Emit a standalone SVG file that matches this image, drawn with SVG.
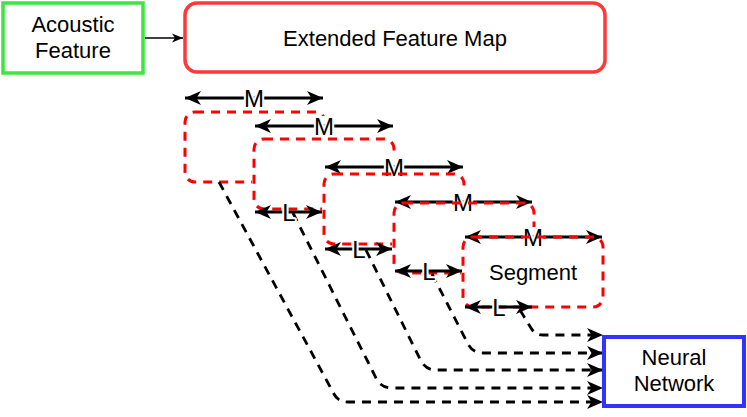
<svg xmlns="http://www.w3.org/2000/svg" width="747" height="417" viewBox="0 0 747 417">
<style>
text{font-family:"Liberation Sans",Arial,Helvetica,sans-serif;font-size:22px;fill:#000;text-anchor:middle}
.lbl{font-size:24px;paint-order:stroke;stroke:#fff;stroke-width:4px;stroke-linejoin:round}
.cover{fill:#fff;stroke:none}
.seg{fill:none;stroke:#ff0000;stroke-width:3;stroke-dasharray:9 7}
.dim{fill:none;stroke:#000;stroke-width:2.8;marker-start:url(#ah);marker-end:url(#ah)}
.conn{fill:none;stroke:#000;stroke-width:2.8;stroke-dasharray:9 7;marker-end:url(#ah)}
</style>
<defs>
<marker id="ah" viewBox="0 0 17 15" refX="16" refY="7.5" markerWidth="17" markerHeight="15" markerUnits="userSpaceOnUse" orient="auto-start-reverse">
<path d="M16,7.5 L0,0.5 L4.5,7.5 L0,14.5 Z" fill="#000"/>
</marker>
<marker id="ahs" viewBox="0 0 12 10" refX="11" refY="5" markerWidth="12" markerHeight="10" markerUnits="userSpaceOnUse" orient="auto">
<path d="M11,5 L0,0.5 L3,5 L0,9.5 Z" fill="#000"/>
</marker>
</defs>

<g id="acoustic">
<rect x="3" y="3" width="140" height="70" fill="#fff" stroke="#3de63d" stroke-width="3.5"/>
<text x="73" y="32">Acoustic</text>
<text x="73" y="58">Feature</text>
</g>

<g id="extended">
<rect x="185" y="3" width="420" height="69" rx="12" fill="#fff" stroke="#ff3838" stroke-width="3.5"/>
<text x="395" y="46">Extended Feature Map</text>
</g>

<g id="seg1">
<rect class="cover" x="183" y="88" width="144" height="96"/>
<path class="dim" d="M185,98 H323"/>
<text class="lbl" x="254" y="107">M</text>
<rect class="seg" x="185" y="112" width="140" height="70" rx="10"/>
</g>
<g id="seg2">
<rect class="cover" x="252" y="116" width="144" height="95"/>
<path class="dim" d="M255,126 H393"/>
<text class="lbl" x="324" y="135">M</text>
<rect class="seg" x="254" y="139" width="140" height="70" rx="10"/>
</g>
<g id="seg3">
<rect class="cover" x="322" y="157" width="144" height="89"/>
<path class="dim" d="M325,167 H463"/>
<text class="lbl" x="394" y="176">M</text>
<rect class="seg" x="324" y="174" width="140" height="70" rx="10"/>
</g>
<g id="seg4">
<rect class="cover" x="392" y="192" width="144" height="83"/>
<path class="dim" d="M395,202 H532"/>
<text class="lbl" x="463" y="211">M</text>
<rect class="seg" x="394" y="203" width="140" height="70" rx="10"/>
</g>
<g id="seg5">
<rect class="cover" x="461" y="227" width="144" height="82"/>
<path class="dim" d="M465,237 H602"/>
<text class="lbl" x="533" y="246">M</text>
<rect class="seg" x="463" y="237" width="140" height="70" rx="10"/>
<text x="533" y="280">Segment</text>
</g>

<g id="connectors">
<path d="M145,38 H183" fill="none" stroke="#000" stroke-width="1.5" marker-end="url(#ahs)"/>
<path class="conn" d="M219,182 L334,394 Q338,402 348,402 L603,402"/>
<path class="conn" d="M293,213 L377,380 Q382,388 392,388 L603,388"/>
<path class="conn" d="M366,250 L421,361 Q426,370 436,370 L603,370"/>
<path class="conn" d="M432,274 L468,344 Q473,353 483,353 L603,353"/>
<path class="conn" d="M520,310 L531,328 Q535,335 543,335 L603,335"/>
</g>

<g id="hops">
<path class="dim" d="M255,212 H322"/>
<text class="lbl" x="289" y="221">L</text>
<path class="dim" d="M325,249 H392"/>
<text class="lbl" x="359" y="258">L</text>
<path class="dim" d="M395,271 H462"/>
<text class="lbl" x="429" y="280">L</text>
<path class="dim" d="M465,307 H532"/>
<text class="lbl" x="499" y="316">L</text>
</g>

<g id="neural">
<rect x="604" y="337" width="140" height="69" fill="#fff" stroke="#3333ff" stroke-width="4"/>
<text x="674" y="365">Neural</text>
<text x="674" y="391">Network</text>
</g>
</svg>
